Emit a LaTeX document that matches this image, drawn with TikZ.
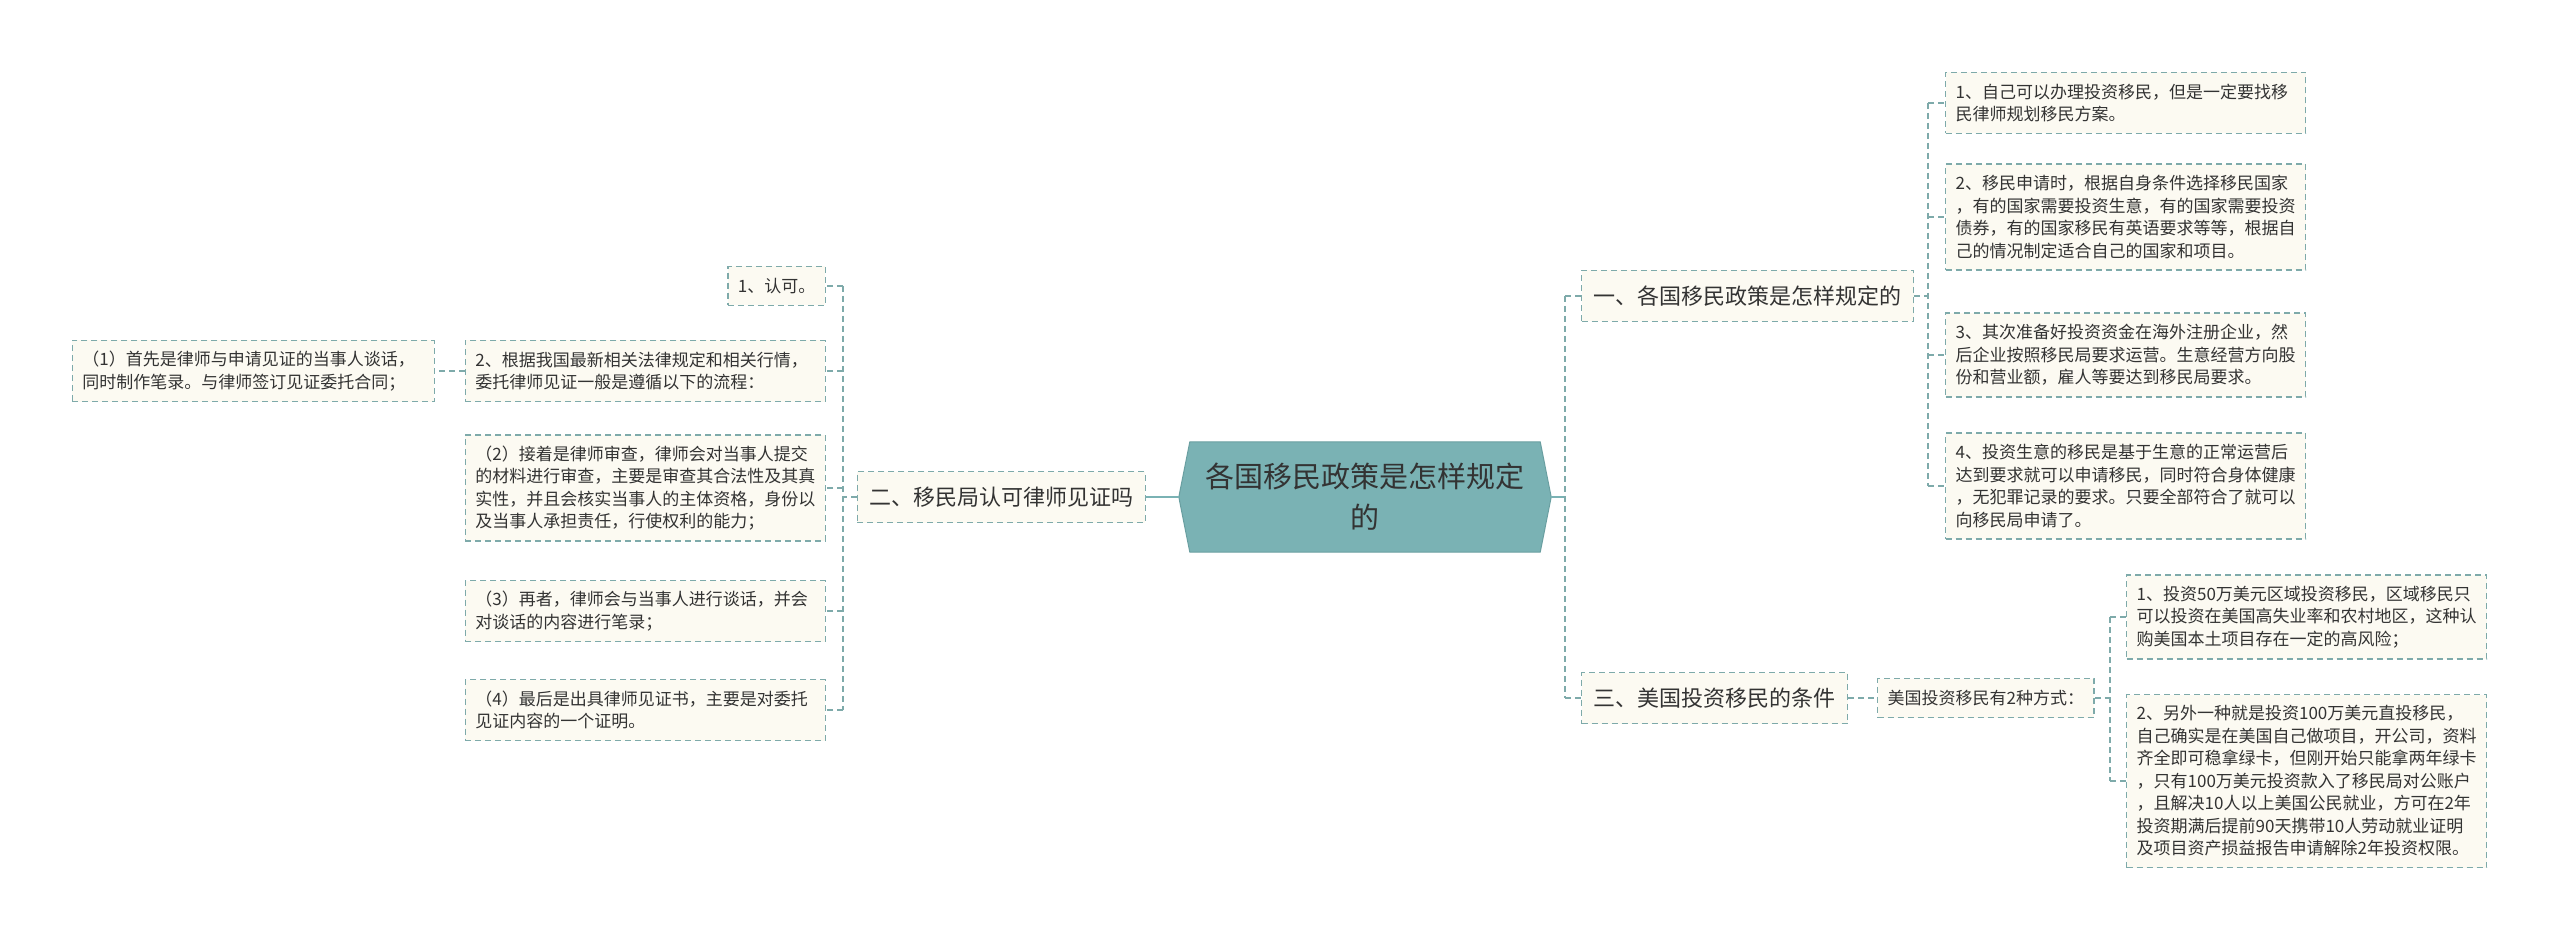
\documentclass[tikz,border=0pt]{standalone}
\usepackage{fontspec}
\setmainfont{Noto Sans CJK SC}
\usetikzlibrary{calc}
\definecolor{txt}{HTML}{333333}
\definecolor{boxfill}{HTML}{FCFAF2}
\definecolor{boxline}{HTML}{7EAAAA}
\definecolor{hexfill}{HTML}{7AB2B4}
\definecolor{hexline}{HTML}{6A9FA1}
\begin{document}
\begin{tikzpicture}[x=1pt,y=-1pt,
  box/.style={draw=boxline, fill=boxfill, dash pattern=on 6pt off 4pt, line width=1.3pt, text=txt, inner xsep=10pt, inner ysep=0pt, align=left},
  small/.style={box, font=\fontsize{17}{22.5}\selectfont},
  one/.style={minimum height=39pt},
  two/.style={minimum height=61pt},
  three/.style={minimum height=84pt},
  four/.style={minimum height=106pt},
  seven/.style={minimum height=173pt},
  big/.style={box, font=\fontsize{22}{26}\selectfont, inner xsep=12pt, minimum height=51pt},
  conn/.style={draw=boxline, line width=1.3pt, dash pattern=on 6pt off 4pt},
  trunk/.style={draw=hexfill, line width=2.5pt},
]
\useasboundingbox[fill=white] (0,0) rectangle (2560,941);

% centre
\node[minimum width=372pt, minimum height=110pt, inner sep=0pt] (ctr) at (1365,497) {};
\draw[fill=hexfill, draw=hexline, line width=1pt]
  (ctr.west) -- ($(ctr.north west)+(11,0)$) -- ($(ctr.north east)+(-11,0)$) -- (ctr.east)
  -- ($(ctr.south east)+(-11,0)$) -- ($(ctr.south west)+(11,0)$) -- cycle;
\node[font=\fontsize{29}{41}\selectfont, text=txt, align=center] (ctrtext) at (ctr.center) {各国移民政策是怎样规定\\的};

% right, level 1
\node[big, anchor=west] (R1) at (1581,296) {一、各国移民政策是怎样规定的};
\node[big, anchor=west] (R2) at (1581,698) {三、美国投资移民的条件};
\node[small, one, anchor=west] (R2a) at (1877,698) {美国投资移民有2种方式：};

% right, children of R1
\node[small, two, text width=340pt, anchor=west] (C1) at (1945,103) {1、自己可以办理投资移民，但是一定要找移\\民律师规划移民方案。};
\node[small, four, text width=340pt, anchor=west] (C2) at (1945,217) {2、移民申请时，根据自身条件选择移民国家\\，有的国家需要投资生意，有的国家需要投资\\债券，有的国家移民有英语要求等等，根据自\\己的情况制定适合自己的国家和项目。};
\node[small, three, text width=340pt, anchor=west] (C3) at (1945,355) {3、其次准备好投资资金在海外注册企业，然\\后企业按照移民局要求运营。生意经营方向股\\份和营业额，雇人等要达到移民局要求。};
\node[small, four, text width=340pt, anchor=west] (C4) at (1945,486) {4、投资生意的移民是基于生意的正常运营后\\达到要求就可以申请移民，同时符合身体健康\\，无犯罪记录的要求。只要全部符合了就可以\\向移民局申请了。};

% right, children of R2a
\node[small, three, text width=340pt, anchor=west] (D1) at (2126,617) {1、投资50万美元区域投资移民，区域移民只\\可以投资在美国高失业率和农村地区，这种认\\购美国本土项目存在一定的高风险；};
\node[small, seven, text width=340pt, anchor=west] (D2) at (2126,781) {2、另外一种就是投资100万美元直投移民，\\自己确实是在美国自己做项目，开公司，资料\\齐全即可稳拿绿卡，但刚开始只能拿两年绿卡\\，只有100万美元投资款入了移民局对公账户\\，且解决10人以上美国公民就业，方可在2年\\投资期满后提前90天携带10人劳动就业证明\\及项目资产损益报告申请解除2年投资权限。};

% left
\node[big, anchor=east] (L1) at (1146,497) {二、移民局认可律师见证吗};
\node[small, one, anchor=east] (A1) at (826,286) {1、认可。};
\node[small, two, text width=340pt, anchor=east] (A2) at (826,371) {2、根据我国最新相关法律规定和相关行情，\\委托律师见证一般是遵循以下的流程：};
\node[small, two, text width=342pt, anchor=east] (A2a) at (435,371) {（1）首先是律师与申请见证的当事人谈话，\\同时制作笔录。与律师签订见证委托合同；};
\node[small, four, text width=340pt, anchor=east] (A3) at (826,488) {（2）接着是律师审查，律师会对当事人提交\\的材料进行审查，主要是审查其合法性及其真\\实性，并且会核实当事人的主体资格，身份以\\及当事人承担责任，行使权利的能力；};
\node[small, two, text width=340pt, anchor=east] (A4) at (826,611) {（3）再者，律师会与当事人进行谈话，并会\\对谈话的内容进行笔录；};
\node[small, two, text width=340pt, anchor=east] (A5) at (826,710) {（4）最后是出具律师见证书，主要是对委托\\见证内容的一个证明。};

% spines
\coordinate (rsp) at (1565,497);
\coordinate (csp) at (1928,296);
\coordinate (dsp) at (2110,698);
\coordinate (lsp) at (843,497);

% connectors from centre
\draw[trunk] (ctr.east) -- (rsp);
\draw[trunk] (ctr.west) -- (L1.east);

% right spine
\draw[conn] (rsp |- R1.west) -- (rsp |- R2.west);
\draw[conn] (rsp |- R1.west) -- (R1.west);
\draw[conn] (rsp |- R2.west) -- (R2.west);
\draw[conn] (R2.east) -- (R2a.west);

% R1 children
\draw[conn] (R1.east) -- (csp);
\draw[conn] (csp |- C1.west) -- (csp |- C4.west);
\foreach \n in {C1,C2,C3,C4} { \draw[conn] (csp |- \n.west) -- (\n.west); }

% R2a children
\draw[conn] (R2a.east) -- (dsp);
\draw[conn] (dsp |- D1.west) -- (dsp |- D2.west);
\foreach \n in {D1,D2} { \draw[conn] (dsp |- \n.west) -- (\n.west); }

% left spine
\draw[conn] (L1.west) -- (lsp);
\draw[conn] (lsp |- A1.east) -- (lsp |- A5.east);
\foreach \n in {A1,A2,A3,A4,A5} { \draw[conn] (lsp |- \n.east) -- (\n.east); }
\draw[conn] (A2.west) -- (A2a.east);
\end{tikzpicture}
\end{document}
